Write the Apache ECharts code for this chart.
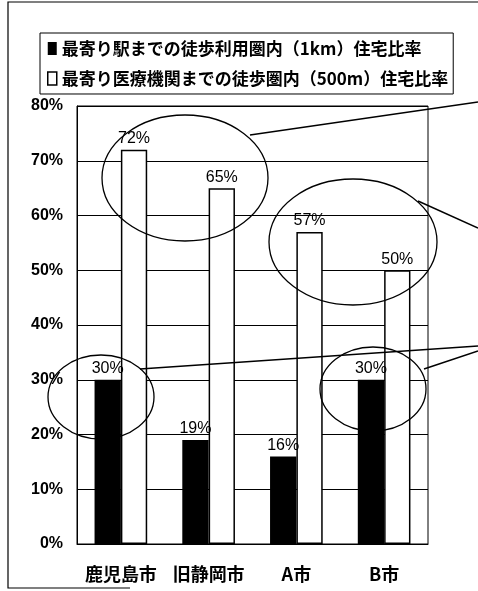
<!DOCTYPE html>
<html>
<head>
<meta charset="utf-8">
<script src="https://cdn.jsdelivr.net/npm/echarts@6/dist/echarts.min.js"></script>
<style>
  html, body { margin: 0; padding: 0; background: #fff; }
  #main { width: 478px; height: 591px; }
</style>
</head>
<body>
<div id="main"></div>
<script type="text/javascript">
	// データ
	var cities = ['鹿児島市', '旧静岡市', 'A市', 'B市'];
	var stationName = '最寄り駅までの徒歩利用圏内（1km）住宅比率';
	var stationRate = [30, 19, 16, 30];
	var medicalName = '最寄り医療機関までの徒歩圏内（500m）住宅比率';
	var medicalRate = [72, 65, 57, 50];

	var jp = '"Noto Sans CJK JP", sans-serif';
	var latin = '"Liberation Sans", Arial, sans-serif';

	var myChart = echarts.init(document.getElementById('main'));

	// 注釈の楕円と引き出し線（画像上の位置）
	function ellipse(cx, cy, rx, ry) {
		return {
			type: 'ellipse', z: 100, silent: true,
			shape: {cx: cx, cy: cy, rx: rx, ry: ry},
			style: {fill: 'none', stroke: '#000', lineWidth: 1.3}
		};
	}
	function line(x1, y1, x2, y2) {
		return {
			type: 'line', z: 100, silent: true,
			shape: {x1: x1, y1: y1, x2: x2, y2: y2},
			style: {stroke: '#000', lineWidth: 1.4}
		};
	}

	var valueLabel = {show: true, position: 'top', distance: 3, formatter: '{c}%', color: '#000', fontFamily: latin, fontSize: 16};

	var option = {
		backgroundColor: '#fff',
		animation: false,
		legend: {
			orient: 'vertical',
			left: 40,
			top: 33,
			padding: [7, 5, 7, 7],
			itemGap: 13,
			itemWidth: 9,
			itemHeight: 13,
			borderColor: '#000',
			borderWidth: 1,
			textStyle: {fontFamily: jp, fontSize: 17, fontWeight: 'bold', color: '#000'},
			data: [
				{name: stationName, icon: 'rect', itemStyle: {color: '#000'}},
				{name: medicalName, icon: 'rect', itemStyle: {color: '#fff', borderColor: '#000', borderWidth: 1.5}}
			]
		},
		grid: {
			left: 77, right: 50, top: 106, bottom: 47,
			show: true, borderColor: '#000', borderWidth: 1
		},
		xAxis: {
			type: 'category',
			data: cities,
			axisTick: {show: false},
			axisLine: {lineStyle: {color: '#000', width: 1}},
			axisLabel: {interval: 0, color: '#000', fontFamily: jp, fontWeight: 'bold', fontSize: 18, margin: 21}
		},
		yAxis: {
			type: 'value',
			min: 0, max: 80, interval: 10,
			axisLine: {show: true, lineStyle: {color: '#000'}},
			axisTick: {show: false},
			axisLabel: {formatter: '{value}%', color: '#000', fontFamily: latin, fontWeight: 'bold', fontSize: 16, margin: 14},
			splitLine: {lineStyle: {color: '#000', width: 1}}
		},
		series: [
			{
				name: stationName,
				type: 'bar',
				data: stationRate,
				barGap: '0%',
				barCategoryGap: '40%',
				itemStyle: {color: '#000'},
				label: valueLabel
			},
			{
				name: medicalName,
				type: 'bar',
				data: medicalRate,
				itemStyle: {color: '#fff', borderColor: '#000', borderWidth: 1.5},
				label: valueLabel
			}
		],
		graphic: [
			// 外枠
			{type: 'polyline', silent: true, shape: {points: [[478, 2], [8, 2], [8, 588], [130, 588]]}, style: {fill: 'none', stroke: '#000', lineWidth: 1.2}},
			ellipse(185, 178, 83, 63),
			ellipse(353, 242, 84, 63),
			ellipse(101, 397, 53, 42),
			ellipse(373, 389, 53, 42),
			line(250, 135, 478, 102),
			line(418, 201, 478, 228),
			line(140, 369, 478, 346),
			line(424, 369, 478, 351)
		]
	};
	myChart.setOption(option);
</script>
</body>
</html>
